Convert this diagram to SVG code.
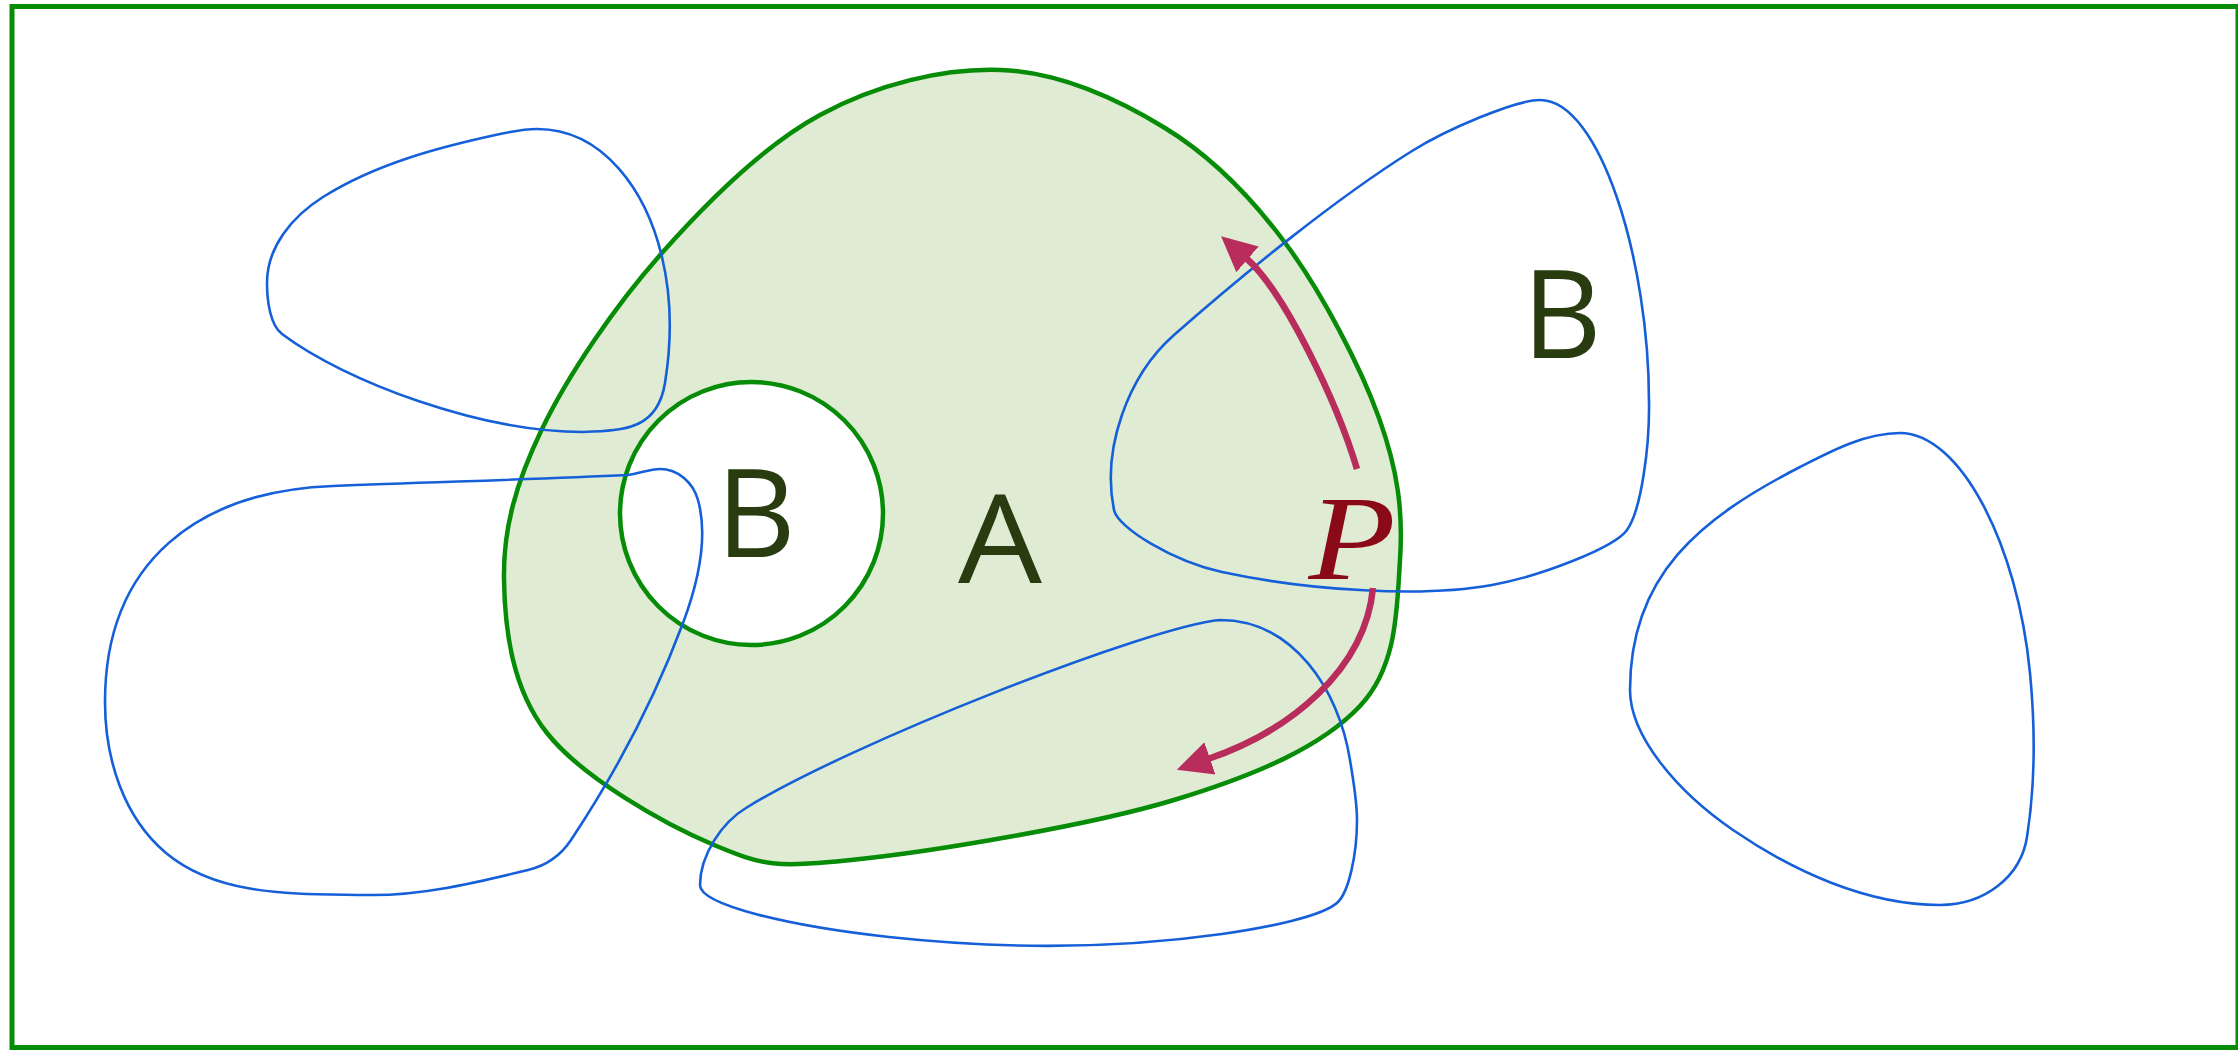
<svg xmlns="http://www.w3.org/2000/svg" width="2238" height="1050" viewBox="0 0 2238 1050">
<style>
.frame{fill:none;stroke:#078c07;stroke-width:5}
.region{stroke:#078c07;stroke-width:4.5}
.blue{fill:none;stroke:#1560d8;stroke-width:2.6;stroke-linejoin:round}
.lbl{font-family:"Open Sans","DejaVu Sans",sans-serif;font-size:123px;fill:#283c10;text-anchor:middle}
.pt{font-family:"Liberation Serif","DejaVu Serif",serif;font-style:italic;font-size:121px;fill:#8a0a18;text-anchor:middle}
.arrow{fill:none;stroke:#b82d5c;stroke-width:6.5;marker-end:url(#head)}
</style>
<defs>
<marker id="head" markerUnits="userSpaceOnUse" markerWidth="40" markerHeight="40" viewBox="0 -20 40 40" refX="2" refY="0" orient="auto">
<path d="M0,-17 L35,0 L0,17 Z" fill="#b82d5c"/>
</marker>
</defs>
<rect class="frame" x="12" y="6.5" width="2226" height="1041"/>
<g id="regionA">
<path class="region" fill="#dfebd3" d="M1001,70 C1058.5,72.2 1117.5,99 1165,128 C1212.5,157 1250.3,195.7 1286,244 C1321.7,292.3 1360,365.3 1379,418 C1398,470.7 1403.2,512 1400,560 C1396.8,608 1397.7,666 1360,706 C1322.3,746 1258.8,774.3 1174,800 C1089.2,825.7 927.7,852.5 851,860 C774.3,867.5 764.7,866.2 714,845 C663.3,823.8 582,777.3 547,733 C512,688.7 504.8,629.7 504,579 C503.2,528.3 515.8,483.2 542,429 C568.2,374.8 614.7,306.3 661,254 C707.3,201.7 763.3,145.7 820,115 C876.7,84.3 943.5,67.8 1001,70 Z"/>
</g>
<g id="regionB-hole">
<circle class="region" fill="#ffffff" cx="751.5" cy="513.5" r="131.5"/>
</g>
<g id="blue-loops">
<path id="loop1" class="blue" d="M537,129 C604,129 646.6,192 662,257 C671.7,297.7 671.7,341.4 665,383 C657.8,427.6 628,430.7 583,432 C481,432 346,382 282,334 C270,325 267,300 267,283 C267,246.6 292.2,216.5 323,197 C375.4,163.8 439.4,147 500,134 C512.2,131.4 524.5,129 537,129 Z"/>
<path id="loop2" class="blue" d="M105,702 C105,560 200,491 333,486 C431,482 530,479.6 628,475 C638.6,473.8 650,469 660,469 C678.2,469 693.1,482.5 698,500 C709,539.4 697.4,584.5 683,623 C654.6,699.1 615.6,772.8 571,840 C561.1,854.9 545.5,865.8 528,870 C474.7,882.9 421,896.1 366,895 C297,893.6 218.9,897.4 166,853 C123.1,817 105,758 105,702 Z"/>
<path id="loop3" class="blue" d="M1540,100 C1600,100 1649,260 1649,402 C1649.7,445 1641.5,509.8 1627,530 C1614.2,547.8 1541.2,576 1492,585 C1423.1,597.6 1310,590.9 1222,572 C1173,561.5 1117.6,527.6 1114,510 C1101.6,449.2 1127.5,375.9 1174,335 C1241.5,275.6 1335.5,198.7 1412,151 C1446,129.8 1515,100 1540,100 Z"/>
<path id="loop4" class="blue" d="M1220,620 C1292.3,620 1338.7,688.4 1350,760 C1353.1,779.8 1357,800 1357,820 C1357,855 1348.7,891.4 1338,902 C1323.8,916.2 1266.6,927.7 1222,934 C1112.1,949.5 999.3,949 889,937 C789.6,926.2 700,905 700,885 C700,855 722.2,822.2 746,808 C848,744.4 1150,626 1220,620 Z"/>
<path id="loop5" class="blue" d="M1900,433 C1960,433 2017.5,543.6 2030,673 C2035.3,727.7 2035.5,782.7 2027,837 C2020.8,876.5 1985,905 1940,905 C1867,905 1793.2,871.3 1733,830 C1675.3,790.4 1630,735 1630,690 C1630,575 1700,518.5 1800,467 C1831.1,451 1865,433 1900,433 Z"/>
</g>
<g id="connectors">
<path class="arrow" d="M1357,469 C1337,402 1284,291 1246,258"/>
<path class="arrow" d="M1373,588 C1365,670 1290,731 1208,759"/>
</g>
<g id="labels">
<text class="lbl" x="756" y="557">B</text>
<text class="lbl" x="1000" y="583" textLength="84" lengthAdjust="spacingAndGlyphs">A</text>
<text class="lbl" x="1562" y="358">B</text>
<text class="pt" transform="translate(1352,579) scale(1.18,1)">P</text>
</g>
</svg>
